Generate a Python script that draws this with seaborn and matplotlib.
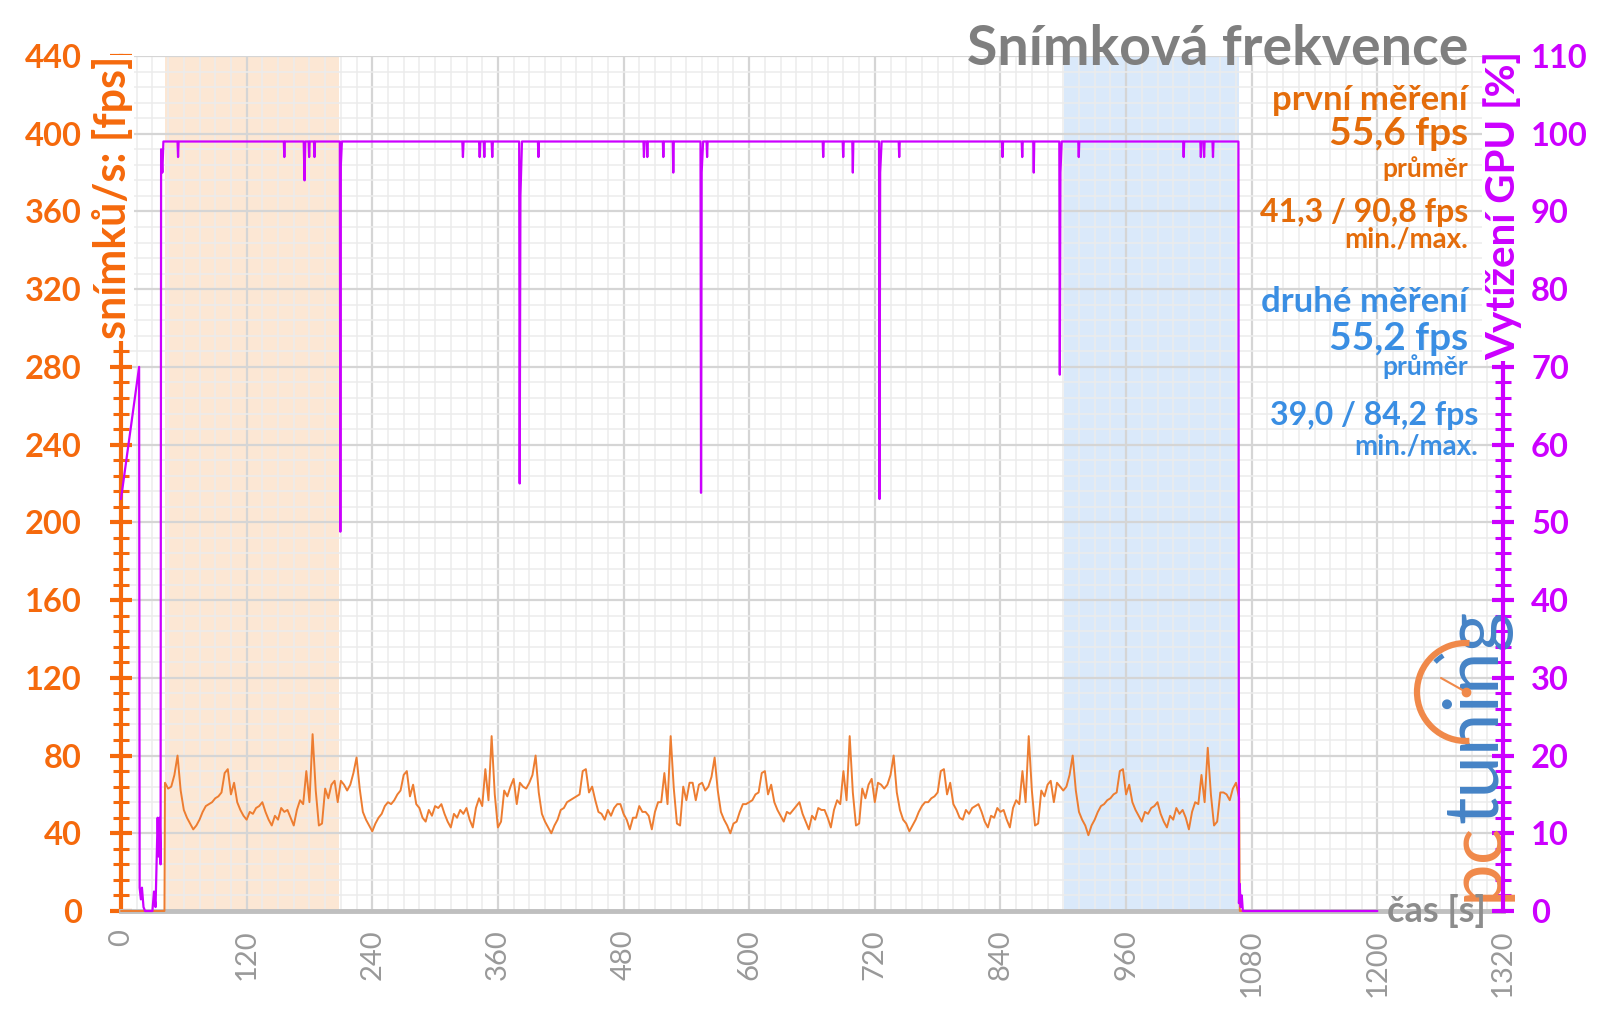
import numpy as np
import pandas as pd
import matplotlib.pyplot as plt
import matplotlib.ticker as mticker
from matplotlib.patches import Arc
from matplotlib.lines import Line2D
import seaborn as sns

# fps log: one sample every 3 s, six laps of the benchmark scene
fps_start, fps_step = 42, 3
fps_lap1 = [66, 63, 64, 70, 80, 62, 52, 48, 45, 42, 44, 47, 51, 54, 55, 56, 58, 59, 61, 71,
            73, 60, 66, 56, 52, 49, 47, 51, 50, 53, 54, 56, 51, 47, 44, 49, 47, 53, 51, 52,
            48, 44, 52, 57, 55, 72, 56, 91, 62, 44, 45, 63, 58, 65, 67, 56, 67]
fps_lap2 = [65, 62, 65, 71, 79, 63, 51, 47, 44, 41, 45, 48, 50, 54, 56, 55, 57, 60, 62, 70,
            72, 59, 65, 55, 53, 48, 46, 52, 49, 54, 53, 55, 50, 46, 43, 50, 48, 52, 50, 53,
            47, 43, 53, 58, 54, 73, 57, 90, 60, 43, 46, 62, 59, 64, 68, 55, 66]
fps_lap3 = [64, 63, 66, 70, 80, 61, 50, 46, 43, 40, 44, 47, 52, 53, 56, 57, 58, 59, 60, 72,
            73, 61, 64, 57, 51, 50, 47, 52, 49, 53, 55, 55, 50, 47, 42, 48, 48, 54, 51, 51,
            49, 42, 51, 56, 56, 71, 55, 90, 63, 45, 44, 64, 57, 66, 66, 57, 65]
fps_lap4 = [66, 62, 64, 69, 79, 62, 51, 47, 44, 40, 45, 46, 51, 55, 55, 56, 57, 60, 61, 71,
            72, 60, 65, 56, 52, 49, 46, 51, 50, 52, 54, 56, 50, 46, 42, 49, 47, 53, 52, 52,
            48, 43, 52, 57, 55, 72, 57, 90, 61, 44, 45, 63, 58, 65, 68, 56, 66]
fps_lap5 = [65, 63, 65, 70, 80, 61, 52, 47, 45, 41, 44, 47, 51, 54, 56, 56, 58, 59, 61, 72,
            73, 60, 66, 55, 52, 48, 47, 52, 50, 53, 54, 55, 51, 46, 43, 49, 48, 53, 51, 52,
            47, 43, 53, 57, 55, 72, 56, 90, 62, 44, 45, 62, 59, 65, 67, 56, 66]
fps_lap6 = [64, 62, 64, 70, 80, 62, 51, 47, 44, 39, 44, 47, 51, 54, 55, 57, 58, 60, 61, 72,
            73, 60, 65, 56, 52, 49, 46, 51, 50, 53, 54, 56, 50, 46, 43, 49, 47, 53, 50, 52,
            48, 42, 51, 56, 55, 70, 56, 84, 60, 44, 46, 61, 61, 60, 57, 63, 66]
fps_tail = [58]
fps_idle_time = [0, 41.5, 1068.6, 1078]
fps_idle_val = [0, 0, 0, 0]

# GPU load in %
gpu_time = [0, 17.3, 17.8, 19, 20, 21.5, 23, 30, 31.5, 33, 35, 36, 37, 37.8, 38.3, 39.5, 40.5,
            54, 54.5, 55, 155.5, 156, 156.5, 174.5, 175.3, 176, 179.2, 179.7, 180.2,
            184.3, 184.8, 185.3, 209.0, 209.5, 210.0, 211, 326, 326.6, 327.2, 342, 342.6,
            343.2, 346.5, 347, 347.5, 354, 354.6, 355.2, 380.3, 380.8, 381.5, 383, 398.2,
            398.7, 399.2, 499, 499.5, 500, 502.2, 502.7, 503.2, 517.5, 518, 518.5, 527,
            527.5, 528, 553.5, 554, 554.6, 556, 559.3, 559.8, 560.3, 670.2, 670.7, 671.2,
            689.3, 689.8, 690.3, 698.5, 699, 699.5, 724, 724.5, 725.1, 726.5, 742.8, 743.3,
            743.8, 841.5, 842, 842.5, 860.3, 860.8, 861.3, 871.3, 871.8, 872.3, 896.2,
            896.7, 897.3, 898.5, 914.3, 914.8, 915.3, 1014.5, 1015, 1015.5, 1030.9, 1031.4,
            1031.9, 1034, 1034.5, 1035, 1042.5, 1043, 1043.5, 1067.3, 1067.8, 1068.5,
            1069.5, 1070.5, 1071.5, 1200]
gpu_load = [53, 70, 3, 1.5, 3, 0.5, 0, 0, 2.5, 0.5, 12, 7, 12, 6, 98, 95, 99,
            99, 97, 99, 99, 97, 99, 99, 94, 99, 99, 97, 99,
            99, 97, 99, 99, 48.8, 96, 99, 99, 97, 99, 99, 97,
            99, 99, 97, 99, 99, 97, 99, 99, 55, 92, 99, 99,
            97, 99, 99, 97, 99, 99, 97, 99, 99, 97, 99, 99,
            95, 99, 99, 53.8, 95, 99, 99, 97, 99, 99, 97, 99,
            99, 97, 99, 99, 95, 99, 99, 53, 95, 99, 99, 97,
            99, 99, 97, 99, 99, 97, 99, 99, 95, 99, 99,
            69, 95, 99, 99, 97, 99, 99, 97, 99, 99, 97,
            99, 99, 97, 99, 99, 97, 99, 99, 1, 3.5,
            0.5, 2, 0, 0]

x_ticks = list(range(0, 1321, 120))
fps_ticks = list(range(0, 441, 40))
gpu_ticks = list(range(0, 111, 10))
first_run = (42, 208)
second_run = (901, 1068)

orange = '#F5690C'
orange_txt = '#E46C0A'
line_orange = '#ED7D31'
purple = '#CC00FF'
blue_txt = '#3A8EE3'
grey = '#8C8C8C'

fps_vals = fps_lap1 + fps_lap2 + fps_lap3 + fps_lap4 + fps_lap5 + fps_lap6 + fps_tail
fps_df = pd.DataFrame({
    't': list(fps_start + fps_step * np.arange(len(fps_vals))) + fps_idle_time,
    'fps': fps_vals + fps_idle_val,
}).sort_values('t')
gpu_df = pd.DataFrame({'t': gpu_time, 'gpu': gpu_load})

sns.set_style('white')
plt.rcParams['font.family'] = ['Lato', 'DejaVu Sans']

fig = plt.figure(figsize=(16, 10.09), dpi=100)
ax = fig.add_axes([121 / 1600, 98 / 1009, 1382 / 1600, 855 / 1009])

ax.axvspan(*first_run, color='#FCE7D4', lw=0, zorder=0.2)
ax.axvspan(*second_run, color='#DAE9FA', lw=0, zorder=0.2)

sns.lineplot(data=fps_df, x='t', y='fps', ax=ax, color=line_orange, linewidth=1.4,
             estimator=None, sort=False, clip_on=False, zorder=3)

ax.set_xlim(0, 1320)
ax.set_ylim(0, 440)
ax.set_xticks(x_ticks)
ax.set_xticklabels(x_ticks)
ax.set_yticks(fps_ticks)
ax.set_yticklabels(fps_ticks, fontweight='bold')
ax.xaxis.set_minor_locator(mticker.MultipleLocator(15))
ax.yaxis.set_minor_locator(mticker.MultipleLocator(8))
ax.set_axisbelow(True)
ax.grid(which='major', color='#D5D5D5', lw=1.6)
ax.grid(which='minor', color='#ECECEC', lw=1.1)
ax.set_xlabel('')
ax.set_ylabel('')

for s in ['top', 'right']:
    ax.spines[s].set_visible(False)
ax.spines['bottom'].set_color('#BFBFBF')
ax.spines['bottom'].set_linewidth(3.5)
ax.spines['left'].set_color(orange)
ax.spines['left'].set_linewidth(3)

ax.tick_params(axis='y', which='major', direction='inout', length=16.5, width=3,
               color=orange, labelcolor=orange, labelsize=23.5, pad=20)
ax.tick_params(axis='y', which='minor', direction='inout', length=12, width=2.2, color=orange)
ax.tick_params(axis='x', which='major', direction='out', length=5, width=3, color='#BFBFBF',
               labelcolor='#999999', labelsize=21, labelrotation=90, pad=8)
ax.tick_params(axis='x', which='minor', length=0)

ax2 = ax.twinx()
sns.lineplot(data=gpu_df, x='t', y='gpu', ax=ax2, color=purple, linewidth=1.6,
             estimator=None, sort=False, clip_on=False, zorder=3)
ax2.set_ylim(0, 110)
ax2.set_yticks(gpu_ticks)
ax2.set_yticklabels(gpu_ticks, fontweight='bold')
ax2.yaxis.set_minor_locator(mticker.MultipleLocator(2))
ax2.set_ylabel('')
ax2.grid(False)
for s in ['top', 'left', 'bottom']:
    ax2.spines[s].set_visible(False)
ax2.spines['right'].set_color(purple)
ax2.spines['right'].set_linewidth(3)
ax2.tick_params(axis='y', which='major', direction='inout', length=16.5, width=3,
                color=purple, labelcolor=purple, labelsize=23.5, pad=12)
ax2.tick_params(axis='y', which='minor', direction='inout', length=12, width=2.2, color=purple)

# axis titles sit on top of the spines with a white box
ax.text(-0.0062, 1.0, 'snímků/s: [fps]', transform=ax.transAxes, rotation=90,
        ha='center', va='top', fontsize=31, fontweight='bold', color=orange, zorder=10,
        bbox=dict(facecolor='white', edgecolor='none', pad=1))
ax2.text(1.0, 1.006, 'Vytížení GPU [%]', transform=ax2.transAxes, rotation=90,
         ha='center', va='top', fontsize=29, fontweight='bold', color=purple, zorder=10,
         bbox=dict(facecolor='white', edgecolor='none', pad=1))
ax2.text(1304, 0, 'čas [s]', ha='right', va='center', fontsize=26, fontweight='bold',
         color=grey, zorder=10)

# title and summary block
ax2.text(0.9747, 0.9895, 'Snímková frekvence', transform=ax2.transAxes, ha='right',
         va='baseline', fontsize=40, fontweight='bold', color='#7F7F7F', zorder=10)
notes = [
    ('první měření', 0.9368, 25, orange_txt, 0.9747),
    ('55,6 fps', 0.8959, 28, orange_txt, 0.9747),
    ('průměr', 0.8588, 19, orange_txt, 0.9747),
    ('41,3 / 90,8 fps', 0.8060, 23, orange_txt, 0.9747),
    ('min./max.', 0.7760, 20, orange_txt, 0.9747),
    ('druhé měření', 0.7009, 25, blue_txt, 0.9747),
    ('55,2 fps', 0.6561, 28, blue_txt, 0.9747),
    ('průměr', 0.6269, 19, blue_txt, 0.9747),
    ('39,0 / 84,2 fps', 0.5690, 23, blue_txt, 0.982),
    ('min./max.', 0.5345, 20, blue_txt, 0.982),
]
for txt, y, size, col, x in notes:
    ax2.text(x, y, txt, transform=ax2.transAxes, ha='right', va='baseline',
             fontsize=size, fontweight='bold', color=col, zorder=10)

# pctuning logo, "tuning" follows right after "pc"
logo_pc = ax2.text(0.9960, 0.012, 'pc', transform=ax2.transAxes, rotation=90,
                   rotation_mode='anchor', ha='left', va='baseline', fontsize=55,
                   color='#F0894A', zorder=1)
fig.canvas.draw()
bb = logo_pc.get_window_extent(fig.canvas.get_renderer())
y_tuning = ax2.transAxes.inverted().transform((0, bb.y1 - 2))[1]
ax2.text(0.9960, y_tuning, 'tuning', transform=ax2.transAxes, rotation=90,
         rotation_mode='anchor', ha='left', va='baseline', fontsize=55,
         color='#4583C6', zorder=1)
fig.add_artist(Arc((14.66, 3.17), 0.98, 0.98, theta1=86, theta2=274, lw=4.5,
                   color='#F0894A', transform=fig.dpi_scale_trans))
fig.add_artist(Arc((14.66, 3.17), 0.86, 0.86, theta1=122, theta2=136, lw=3.5,
                   color='#4583C6', transform=fig.dpi_scale_trans))
fig.add_artist(Line2D([14.66, 14.41], [3.17, 3.31], lw=1.5, color='#F0894A',
                      transform=fig.dpi_scale_trans))
fig.add_artist(Line2D([14.66], [3.17], marker='o', ms=6, color='#F0894A',
                      transform=fig.dpi_scale_trans))

fig.savefig('out.png', dpi=100)
